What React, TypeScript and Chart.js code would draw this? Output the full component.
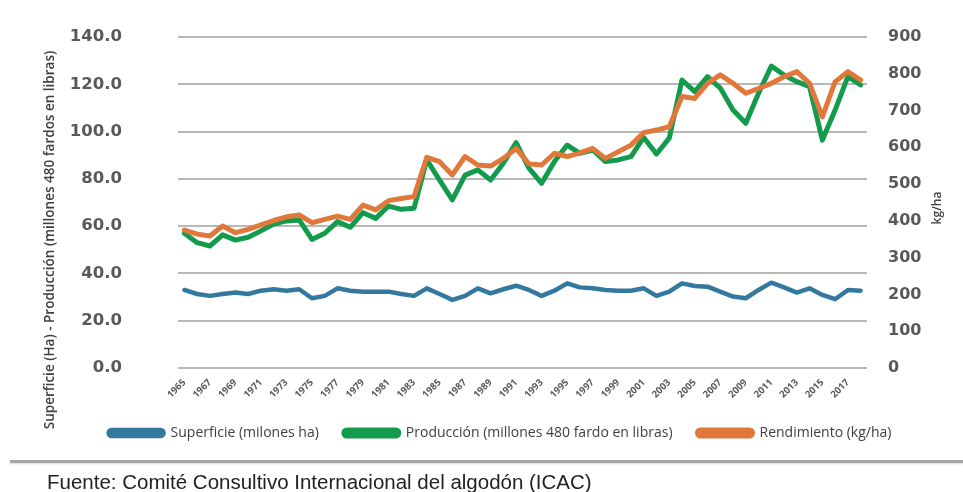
import React, { useEffect, useRef } from 'react';
import { Chart, registerables } from 'chart.js';

Chart.register(...registerables);

const years = [
  '1965', '1966', '1967', '1968', '1969', '1970', '1971', '1972', '1973', '1974',
  '1975', '1976', '1977', '1978', '1979', '1980', '1981', '1982', '1983', '1984',
  '1985', '1986', '1987', '1988', '1989', '1990', '1991', '1992', '1993', '1994',
  '1995', '1996', '1997', '1998', '1999', '2000', '2001', '2002', '2003', '2004',
  '2005', '2006', '2007', '2008', '2009', '2010', '2011', '2012', '2013', '2014',
  '2015', '2016', '2017', '2018',
];

// Superficie (millones ha) - left axis
const superficie = [
  33.0, 31.3, 30.5, 31.3, 31.9, 31.3, 32.7, 33.3, 32.7, 33.3,
  29.5, 30.5, 33.7, 32.7, 32.3, 32.3, 32.3, 31.3, 30.5, 33.7,
  31.3, 28.8, 30.5, 33.7, 31.6, 33.3, 34.8, 33.0, 30.5, 32.7,
  35.8, 34.1, 33.7, 33.0, 32.7, 32.7, 33.7, 30.5, 32.3, 35.8,
  34.7, 34.4, 32.3, 30.2, 29.5, 33.0, 36.1, 34.1, 31.9, 33.7,
  30.9, 29.1, 33.0, 32.7,
];

// Producción (millones 480 fardo en libras) - left axis
const produccion = [
  57.0, 53.0, 51.6, 56.3, 54.1, 55.3, 58.0, 60.9, 62.2, 62.6,
  54.4, 57.0, 61.9, 59.5, 65.7, 63.3, 68.5, 67.1, 67.6, 88.0,
  79.5, 71.1, 81.6, 83.8, 79.5, 86.6, 95.3, 84.5, 78.1, 87.3,
  94.3, 90.8, 92.2, 87.3, 88.0, 89.4, 97.5, 90.5, 97.2, 121.8,
  116.9, 123.2, 118.4, 109.1, 103.5, 116.2, 127.7, 123.9, 121.1, 119.0,
  96.4, 109.1, 123.2, 119.7,
];

// Rendimiento (kg/ha) - right axis
const rendimiento = [
  375, 364, 359, 386, 368, 377, 389, 401, 411, 416,
  395, 404, 413, 404, 443, 430, 455, 461, 466, 573,
  561, 525, 575, 552, 549, 570, 597, 555, 552, 584,
  575, 585, 597, 570, 588, 606, 640, 647, 656, 738,
  733, 774, 797, 774, 747, 760, 774, 792, 806, 774,
  683, 778, 806, 783,
];

const seriesNames = [
  'Superficie (milones ha)',
  'Producción (millones 480 fardo en libras)',
  'Rendimiento (kg/ha)',
];

const leftTitle = 'Superficie (Ha) - Producción (millones 480 fardos en libras)';
const rightTitle = 'kg/ha';
const sourceText = 'Fuente: Comité Consultivo Internacional del algodón (ICAC)';

const BLUE = '#35789f';
const GREEN = '#129b4d';
const ORANGE = '#e0773b';
const TICK = '#595959';

const titlesPlugin = {
  id: 'axisTitlesCustom',
  afterDraw(chart: any) {
    const { ctx, chartArea } = chart;
    ctx.save();
    ctx.fillStyle = '#404040';
    ctx.textAlign = 'center';
    ctx.textBaseline = 'middle';
    ctx.font = '600 13.5px "Open Sans"';
    ctx.translate(chartArea.left - 128, chartArea.bottom - 128);
    ctx.rotate(-Math.PI / 2);
    ctx.fillText(leftTitle, 0, 0);
    ctx.restore();

    ctx.save();
    ctx.fillStyle = '#404040';
    ctx.textAlign = 'center';
    ctx.textBaseline = 'middle';
    ctx.font = '600 12px "Open Sans"';
    ctx.translate(chartArea.right + 71, chartArea.top + 171);
    ctx.rotate(-Math.PI / 2);
    ctx.fillText(rightTitle, 0, 0);
    ctx.restore();
  },
};

export default function App() {
  const canvasRef = useRef<HTMLCanvasElement | null>(null);

  useEffect(() => {
    const canvas = canvasRef.current;
    if (!canvas) return;
    const chart = new Chart(canvas, {
      type: 'line',
      data: {
        labels: years,
        datasets: [
          {
            label: seriesNames[0],
            data: superficie,
            yAxisID: 'y',
            borderColor: BLUE,
            backgroundColor: BLUE,
            borderWidth: 4.5,
            pointRadius: 0,
            tension: 0,
            order: 2,
          },
          {
            label: seriesNames[1],
            data: produccion,
            yAxisID: 'y',
            borderColor: GREEN,
            backgroundColor: GREEN,
            borderWidth: 5,
            pointRadius: 0,
            tension: 0,
            order: 1,
          },
          {
            label: seriesNames[2],
            data: rendimiento,
            yAxisID: 'y1',
            borderColor: ORANGE,
            backgroundColor: ORANGE,
            borderWidth: 5,
            pointRadius: 0,
            tension: 0,
            order: 0,
          },
        ],
      },
      options: {
        animation: false,
        responsive: false,
        devicePixelRatio: 1,
        elements: {
          line: { borderJoinStyle: 'round', borderCapStyle: 'round' },
        },
        layout: { padding: { left: 37, right: 0, top: 37, bottom: 42 } },
        plugins: {
          legend: {
            position: 'bottom',
            labels: {
              boxWidth: 55,
              boxHeight: 6,
              useBorderRadius: true,
              borderRadius: 3,
              padding: 25,
              color: '#404040',
              font: { family: '"Open Sans"', size: 14 },
              sort: (a: any, b: any) => a.datasetIndex - b.datasetIndex,
            },
          },
          tooltip: { enabled: false },
        },
        scales: {
          x: {
            type: 'category',
            offset: true,
            grid: { display: false, drawTicks: false },
            border: { display: false },
            ticks: {
              autoSkip: false,
              maxRotation: 45,
              minRotation: 45,
              padding: 9,
              color: TICK,
              font: { family: '"Open Sans"', size: 9.5, weight: 'bold' },
              callback: (_v: any, i: number) => (i % 2 === 0 ? years[i] : ''),
            },
            afterFit: (s: any) => {
              s.height = 33;
            },
          },
          y: {
            position: 'left',
            min: 0,
            max: 140,
            grid: {
              color: '#b8b8b8',
              lineWidth: 2,
              drawTicks: true,
              tickLength: 56,
              tickColor: 'rgba(0,0,0,0)',
            },
            border: { display: false },
            ticks: {
              stepSize: 20,
              padding: 0,
              color: TICK,
              font: { family: '"DejaVu Sans"', size: 16.5, weight: 'bold' },
              callback: (v: any) => Number(v).toFixed(1),
            },
            afterFit: (s: any) => {
              s.width = 141;
            },
          },
          y1: {
            position: 'right',
            min: 0,
            max: 900,
            grid: {
              drawOnChartArea: false,
              drawTicks: true,
              tickLength: 21,
              tickColor: 'rgba(0,0,0,0)',
            },
            border: { display: false },
            ticks: {
              stepSize: 100,
              padding: 0,
              color: TICK,
              font: { family: '"DejaVu Sans"', size: 16, weight: 'bold' },
            },
            afterFit: (s: any) => {
              s.width = 96;
            },
          },
        },
      },
      plugins: [titlesPlugin],
    });
    return () => chart.destroy();
  }, []);

  return (
    <div
      style={{
        position: 'absolute',
        left: 0,
        top: 0,
        width: 963,
        height: 492,
        background: '#ffffff',
        overflow: 'hidden',
      }}
    >
      <canvas ref={canvasRef} width={963} height={492} style={{ width: 963, height: 492, display: 'block' }} />
      <div
        style={{
          position: 'absolute',
          left: 10,
          top: 460,
          width: 953,
          height: 3,
          background: '#a6a6a6',
          boxShadow: '0 1px 2px rgba(0,0,0,0.15)',
        }}
      />
      <div
        style={{
          position: 'absolute',
          left: 47,
          top: 471,
          fontFamily: '"Liberation Sans", Arial, sans-serif',
          fontSize: 20.5,
          lineHeight: '22px',
          color: '#222222',
          whiteSpace: 'nowrap',
        }}
      >
        {sourceText}
      </div>
    </div>
  );
}
